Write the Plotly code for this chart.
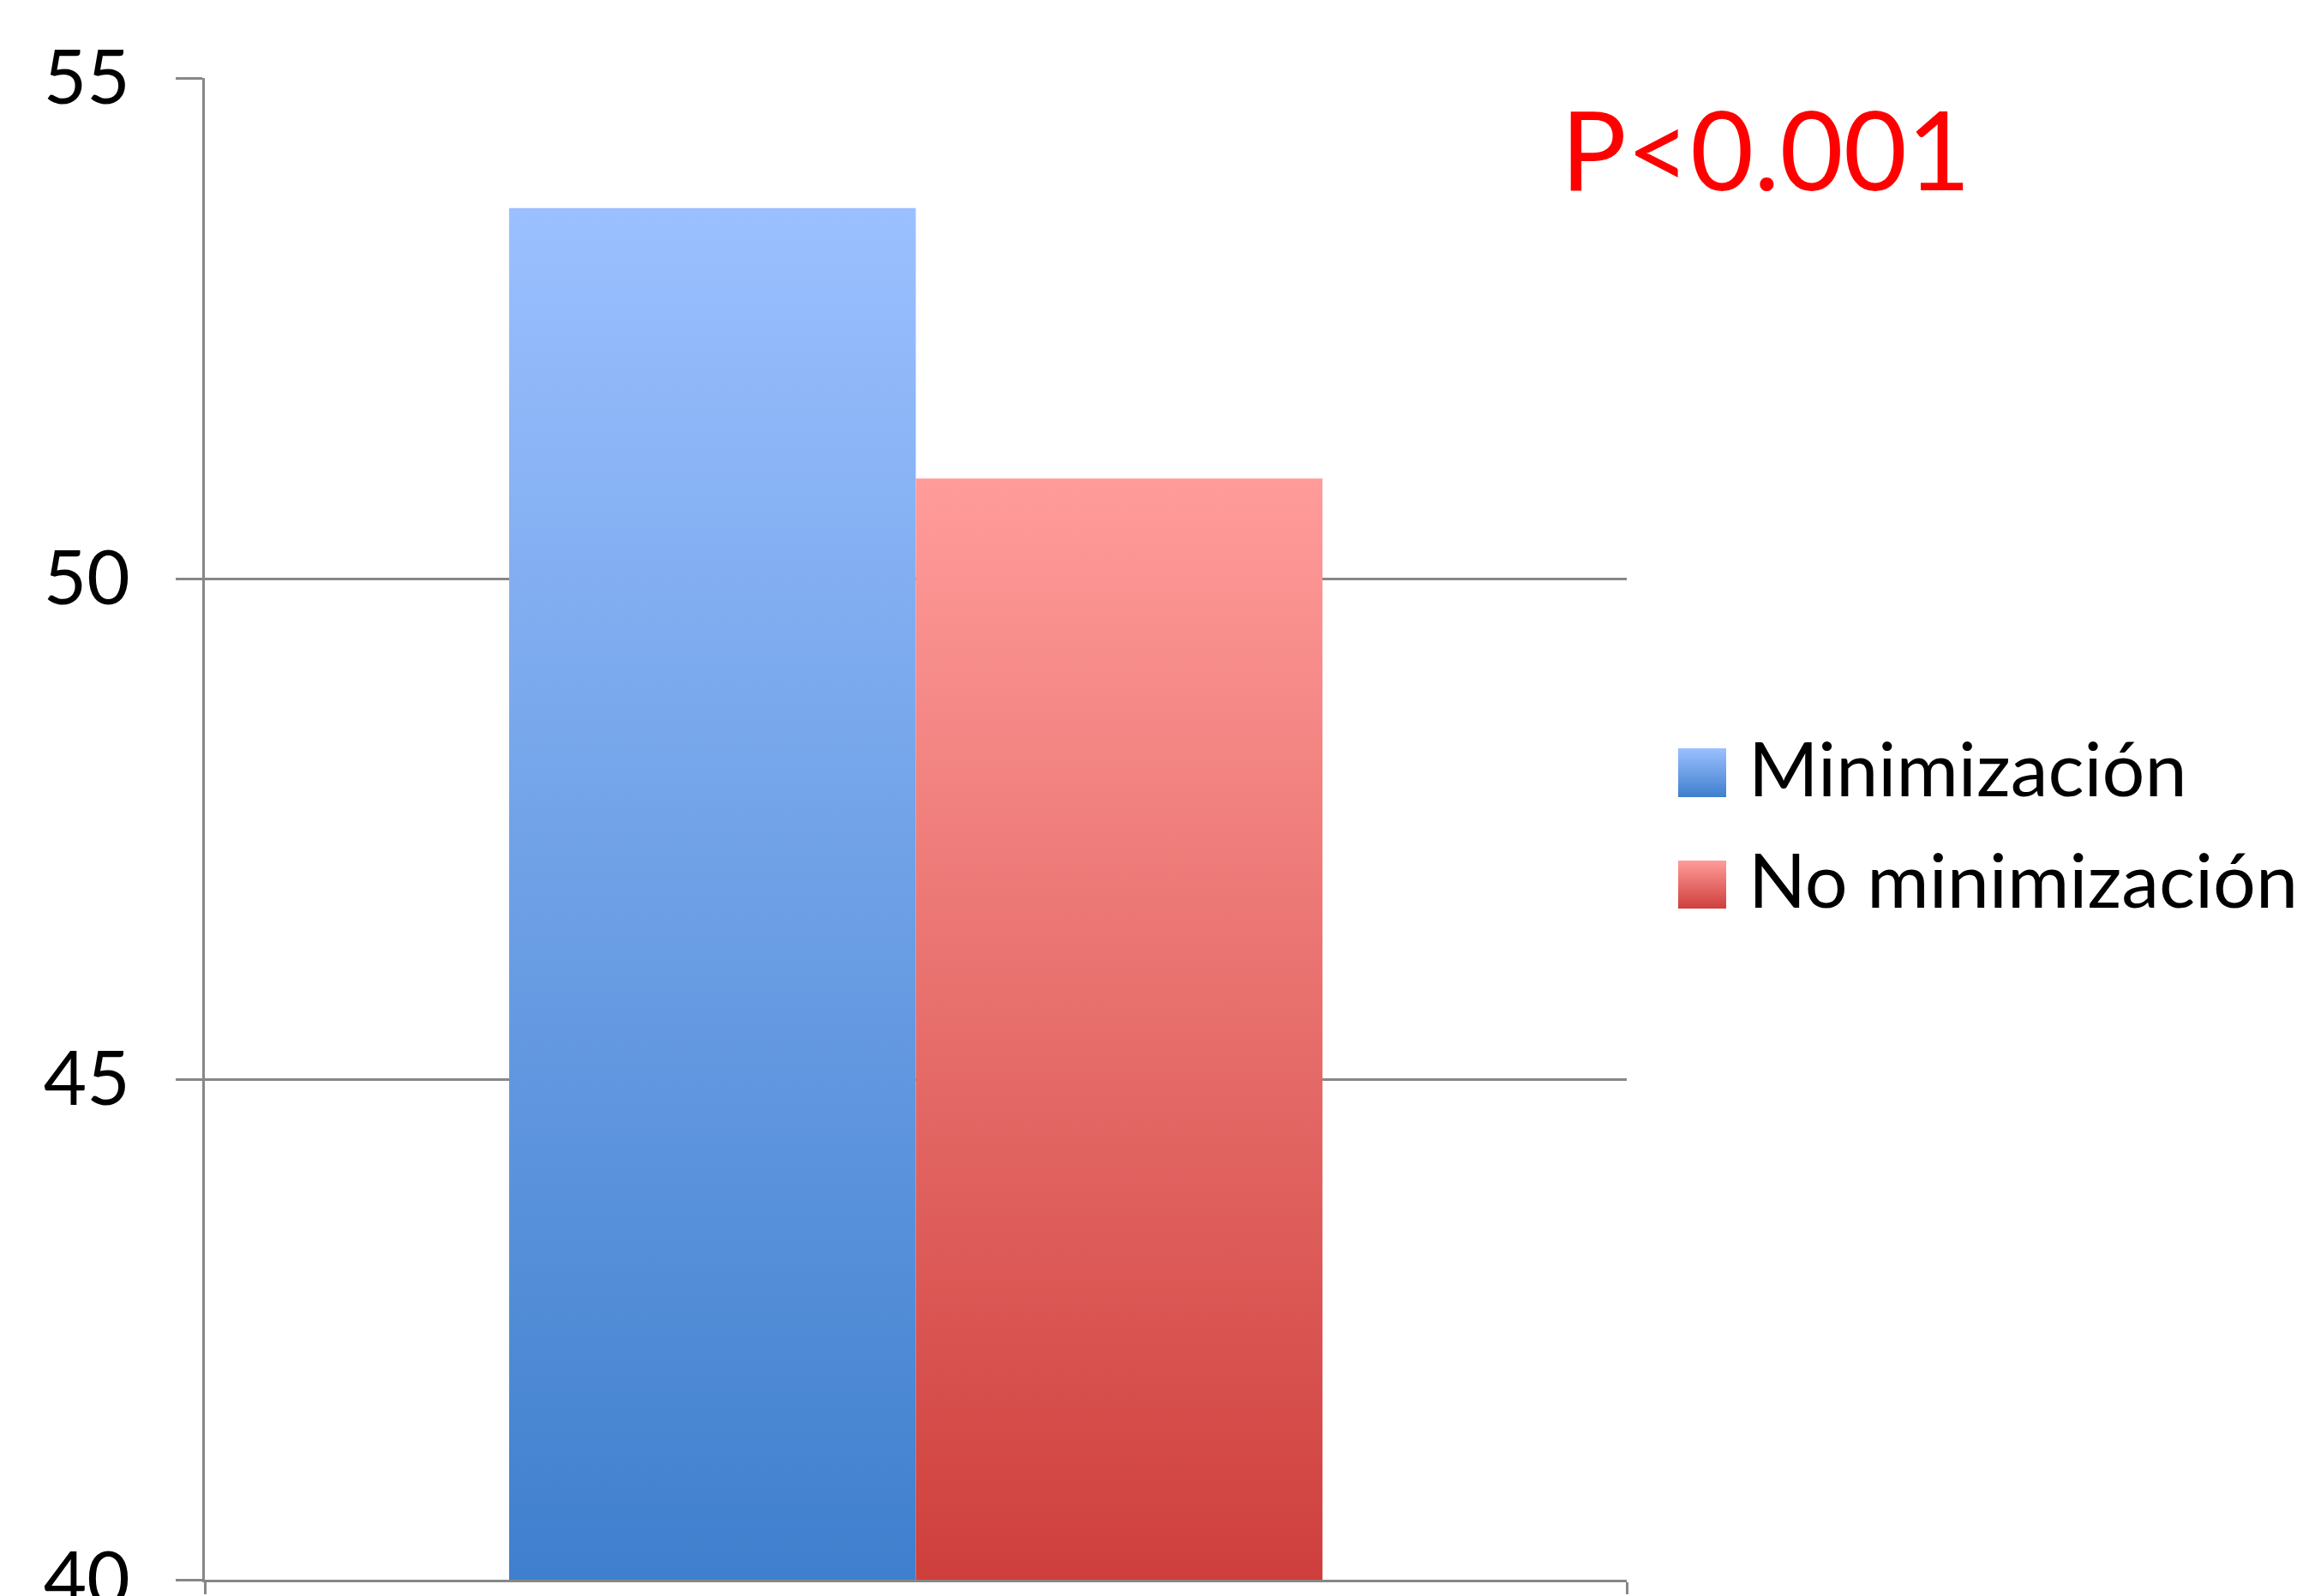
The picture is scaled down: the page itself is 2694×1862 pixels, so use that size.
import plotly.graph_objects as go

# ---------------- data ----------------
categories = [""]
series_names = ["Minimización", "No minimización"]
series_values = [53.7, 51.0]
y_ticks = [40, 45, 50, 55]
p_label = "P<0.001"

# ---------------- style / layout ----------------
W, H = 2694, 1862
PL, PR, PT, PB = 239, 1898, 91, 1843          # plot area (px)
GROUP_WIDTH = 0.572
colors_top = ["#9BC0FF", "#FF9C9A"]
colors_bottom = ["#3F7FCD", "#CE3F3C"]
AXIS_COLOR = "#878787"
FONT = "Lato"
LEG_SW_X = (1958, 2014)
LEG_ROWS_Y = [(873, 930), (1004, 1060)]
LEG_TEXT_X = 2038
LEG_TEXT_DY = -7

fig = go.Figure()

n = len(series_values)
bar_w = GROUP_WIDTH / n
y_base = min(y_ticks)
for ci, cat in enumerate(categories):
    for i, (name, val) in enumerate(zip(series_names, series_values)):
        x0 = ci - GROUP_WIDTH / 2 + i * bar_w
        x1 = x0 + bar_w
        fig.add_trace(go.Scatter(
            x=[x0, x1, x1, x0, x0],
            y=[y_base, y_base, val, val, y_base],
            fill="toself", mode="lines", line=dict(width=0),
            fillgradient=dict(type="vertical",
                              colorscale=[[0, colors_bottom[i]], [1, colors_top[i]]]),
            name=name, showlegend=False, hoverinfo="name+y",
            xaxis="x", yaxis="y"))

# legend (custom, to get large gradient swatches)
for i, name in enumerate(series_names):
    ya, yb = LEG_ROWS_Y[i]
    xa, xb = LEG_SW_X
    fig.add_trace(go.Scatter(
        x=[xa, xb, xb, xa, xa], y=[yb, yb, ya, ya, yb],
        fill="toself", mode="lines", line=dict(width=0),
        fillgradient=dict(type="vertical", start=yb, stop=ya,
                          colorscale=[[0, colors_bottom[i]], [1, colors_top[i]]]),
        showlegend=False, hoverinfo="skip", xaxis="x2", yaxis="y2"))
    fig.add_annotation(text=name, x=LEG_TEXT_X / W,
                       y=1 - ((ya + yb) / 2 + LEG_TEXT_DY) / H,
                       xref="paper", yref="paper", xanchor="left", yanchor="middle",
                       showarrow=False, font=dict(family=FONT, size=88, color="black"))

fig.add_annotation(text=p_label, x=2060 / W, y=1 - 172 / H, xref="paper", yref="paper",
                   xanchor="center", yanchor="middle", showarrow=False,
                   font=dict(family=FONT, size=128, color="#FF0000"))

fig.update_layout(
    width=W, height=H,
    margin=dict(l=0, r=0, t=0, b=0, pad=0, autoexpand=False),
    paper_bgcolor="white", plot_bgcolor="rgba(0,0,0,0)",
    showlegend=False,
    font=dict(family=FONT, color="black"),
    xaxis=dict(domain=[PL / W, PR / W], range=[-0.5, len(categories) - 0.5],
               tickvals=[-0.5, len(categories) - 0.5], ticks="outside", ticklen=14,
               tickwidth=3, tickcolor=AXIS_COLOR, showticklabels=False,
               showline=True, linecolor=AXIS_COLOR, linewidth=3,
               showgrid=False, zeroline=False, anchor="y", automargin=False),
    yaxis=dict(domain=[1 - PB / H, 1 - PT / H], range=[y_ticks[0], y_ticks[-1]],
               tickvals=y_ticks, ticks="outside", ticklen=31, tickwidth=3,
               tickcolor=AXIS_COLOR, showline=True, linecolor=AXIS_COLOR, linewidth=3,
               showgrid=True, gridcolor=AXIS_COLOR, gridwidth=2.5, zeroline=False,
               tickfont=dict(family=FONT, size=87, color="black"),
               ticklabelstandoff=36, ticklabeloverflow="allow",
               anchor="x", automargin=False),
    xaxis2=dict(domain=[0, 1], range=[0, W], visible=False, anchor="y2", automargin=False),
    yaxis2=dict(domain=[0, 1], range=[H, 0], visible=False, anchor="x2", automargin=False),
)

fig.write_html("out.html")
